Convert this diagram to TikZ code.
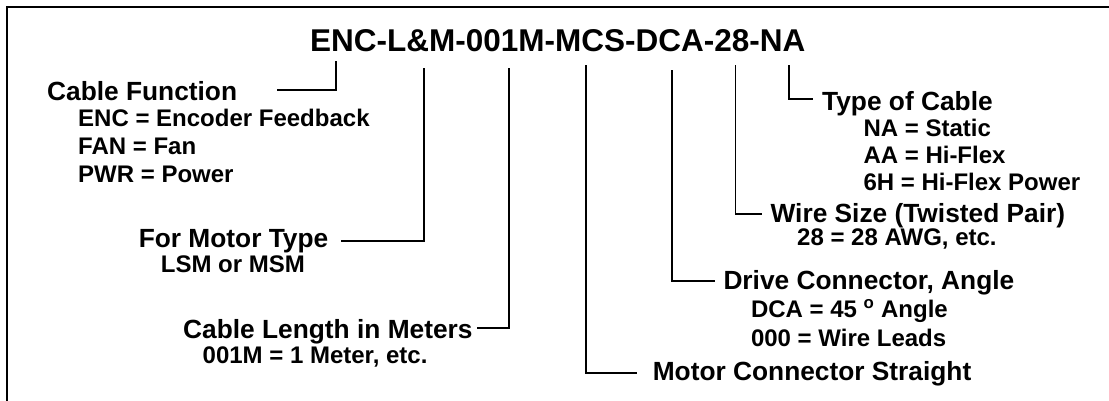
\documentclass[tikz,border=0pt]{standalone}
\usepackage{fontspec}
\setmainfont{Liberation Sans}
\begin{document}
\begin{tikzpicture}[x=1pt,y=-1pt,
  frame/.style={line width=2.2pt,line cap=rect},
  conn/.style={line width=1.7pt},
  titletext/.style={font=\fontsize{31.5}{36}\selectfont\bfseries,inner sep=0pt,anchor=base west},
  head/.style={font=\fontsize{26.3}{30}\selectfont\bfseries,inner sep=0pt,anchor=base west},
  sub/.style={font=\fontsize{24}{28}\selectfont\bfseries,inner sep=0pt,anchor=base west}]
\useasboundingbox (0,0) rectangle (1109,400);
% frame (top and left edges)
\coordinate (fbl) at (7,400);
\coordinate (ftl) at (7,7);
\coordinate (ftr) at (1109,7);
\draw[frame] (fbl) -- (ftl) -- (ftr);
% title
\node[titletext] (title) at (310,51) {ENC-L\&M-001M-MCS-DCA-28-NA};
% Cable Function
\node[head] (cf) at (47,100) {Cable Function};
\node[sub] (cf1) at (78,126) {ENC = Encoder Feedback};
\node[sub] (cf2) at (78,154) {FAN = Fan};
\node[sub] (cf3) at (78,182) {PWR = Power};
\coordinate (cfT) at (336,61);
\coordinate (cfE) at (277,90);
\draw[conn] (cfT) |- (cfE);
% For Motor Type
\node[head] (mt) at (138.6,247) {For Motor Type};
\node[sub] (mt1) at (160.7,272) {LSM or MSM};
\coordinate (mtT) at (424,68);
\coordinate (mtE) at (341,240.7);
\draw[conn] (mtT) |- (mtE);
% Cable Length
\node[head] (cl) at (183,338.3) {Cable Length in Meters};
\node[sub] (cl1) at (202.5,363.3) {001M = 1 Meter, etc.};
\coordinate (clT) at (509,68);
\coordinate (clE) at (477,328.3);
\draw[conn] (clT) |- (clE);
% Motor Connector Straight
\node[head] (mc) at (652.6,380) {Motor Connector Straight};
\coordinate (mcT) at (585.8,65);
\coordinate (mcE) at (636.5,372.7);
\draw[conn] (mcT) |- (mcE);
% Drive Connector, Angle
\node[head] (dc) at (723.3,289.3) {Drive Connector, Angle};
\node[sub] (dc1) at (750.8,317.7) {DCA = 45 \textsuperscript{o} Angle};
\node[sub] (dc2) at (750.8,346.7) {000 = Wire Leads};
\coordinate (dcT) at (672.2,70);
\coordinate (dcE) at (715,280.7);
\draw[conn] (dcT) |- (dcE);
% Wire Size
\node[head] (ws) at (770.4,222.7) {Wire Size (Twisted Pair)};
\node[sub] (ws1) at (797,245) {28 = 28 AWG, etc.};
\coordinate (wsT) at (735.4,65);
\coordinate (wsE) at (762,214.3);
\draw[conn] (wsT) |- (wsE);
% Type of Cable
\node[head] (tc) at (822,110.5) {Type of Cable};
\node[sub] (tc1) at (863.3,136.7) {NA = Static};
\node[sub] (tc2) at (863.3,163.3) {AA = Hi-Flex};
\node[sub] (tc3) at (863.3,190) {6H = Hi-Flex Power};
\coordinate (tcT) at (789,65);
\coordinate (tcE) at (812.6,99);
\draw[conn] (tcT) |- (tcE);
\end{tikzpicture}
\end{document}
